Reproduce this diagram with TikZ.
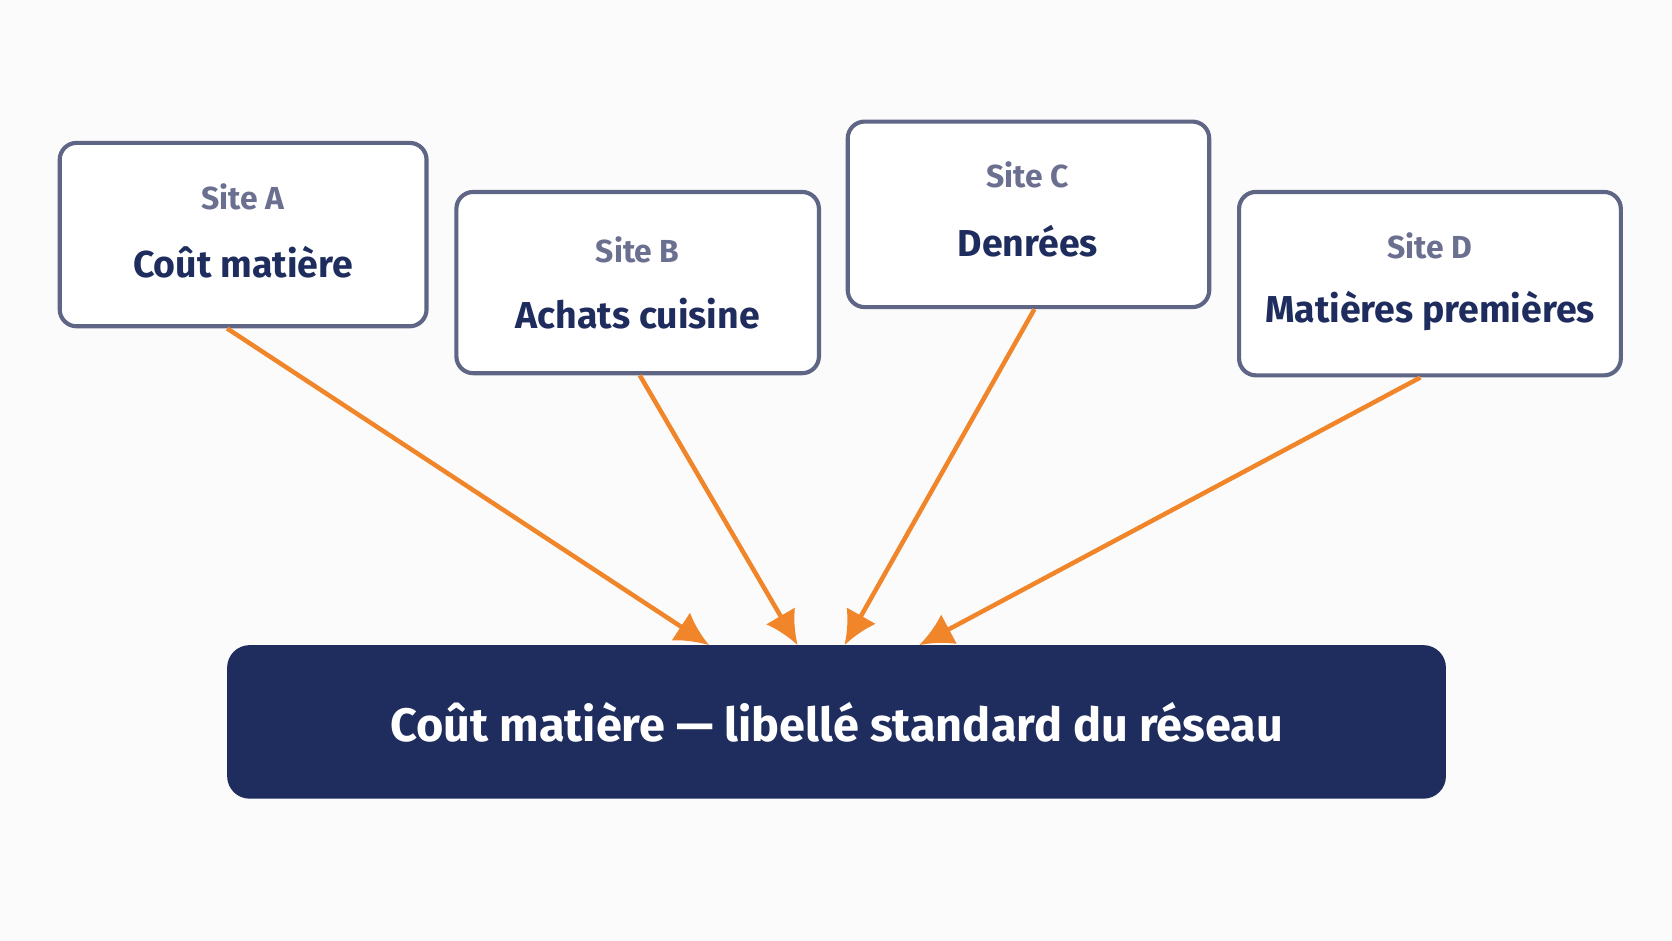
\documentclass[tikz,border=0pt]{standalone}
\usepackage{fontspec}
\setmainfont{Fira Sans}
\begin{document}
\begin{tikzpicture}[x=0.02cm,y=-0.02cm,
  box/.style={draw=boxline,line width=2.2pt,rounded corners=9pt,fill=white},
  site/.style={text=sitegray,font=\fontsize{17}{20}\selectfont\bfseries},
  lab/.style={text=navy,font=\fontsize{20}{24}\selectfont\bfseries},
  arr/.style={draw=orange1,line width=2.4pt,-{Latex[length=18pt,width=18pt]}}]
\usetikzlibrary{arrows.meta}
\definecolor{navy}{HTML}{1F2D5E}
\definecolor{boxline}{HTML}{5F6585}
\definecolor{sitegray}{HTML}{6B7090}
\definecolor{orange1}{HTML}{F0852A}
\fill[white!97!gray] (0,0) rectangle (1568,882);
\draw[box] (56,134) rectangle (400,306);
\draw[box] (428,180) rectangle (768,350);
\draw[box] (795,114) rectangle (1134,288);
\draw[box] (1162,180) rectangle (1520,352);
\node[site] (sa) at (228,185) {Site A};
\node[lab] (la) at (228,246) {Coût matière};
\node[site] (sb) at (598,234) {Site B};
\node[lab] (lb) at (598,294) {Achats cuisine};
\node[site] (sc) at (964,164) {Site C};
\node[lab] (lc) at (964,226) {Denrées};
\node[site] (sd) at (1341,231) {Site D};
\node[lab] (ld) at (1341,292) {Matières premières};
\node[fill=navy,rounded corners=12pt,minimum width=1143*0.02cm,minimum height=144*0.02cm,text=white,font=\fontsize{25}{30}\selectfont\bfseries] (m) at (784.5,677) {Coût matière — libellé standard du réseau};
\coordinate (a1) at (213,308); \coordinate (a2) at (665,605);
\coordinate (b1) at (600,352); \coordinate (b2) at (748,605);
\coordinate (c1) at (970,290); \coordinate (c2) at (792,605);
\coordinate (d1) at (1332,354); \coordinate (d2) at (862,605);
\draw[arr] (a1) -- (a2);
\draw[arr] (b1) -- (b2);
\draw[arr] (c1) -- (c2);
\draw[arr] (d1) -- (d2);
\end{tikzpicture}
\end{document}
